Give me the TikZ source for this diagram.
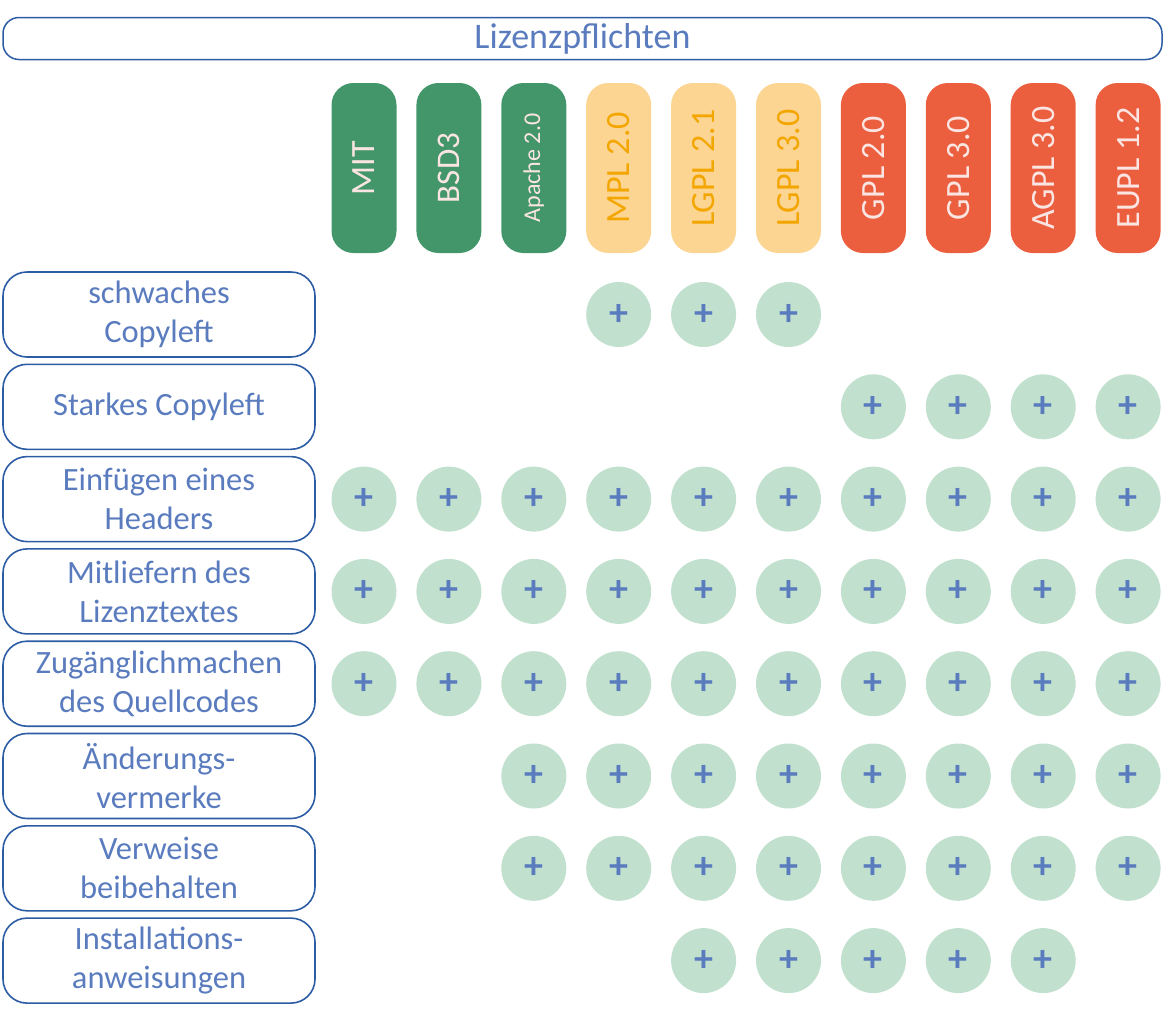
\documentclass[tikz,border=0pt]{standalone}
\usepackage{fontspec}
\setmainfont{Carlito}
\definecolor{boxblue}{RGB}{44,92,164}
\definecolor{txtblue}{RGB}{90,124,190}
\definecolor{hgreen}{RGB}{67,150,106}
\definecolor{hyellow}{RGB}{252,213,146}
\definecolor{tyellow}{RGB}{244,166,0}
\definecolor{hred}{RGB}{235,94,62}
\definecolor{tred}{RGB}{251,229,227}
\definecolor{dotgreen}{RGB}{193,225,206}

\begin{document}
\begin{tikzpicture}[x=1pt,y=-1pt,
    titlebox/.style={draw=boxblue, line width=1.5pt, rounded corners=16pt, minimum width=1159pt, minimum height=42pt, inner sep=0pt, text=txtblue, font=\fontsize{36}{40}\selectfont},
    hdr/.style={rotate=90, rounded corners=22pt, minimum width=170pt, minimum height=65pt, inner sep=0pt},
    rowbox/.style={draw=boxblue, line width=1.6pt, rounded corners=24pt, minimum width=312pt, minimum height=85pt, inner sep=0pt, align=center, text=txtblue, font=\fontsize{32.5}{39}\selectfont},
    yes/.style={circle, fill=dotgreen, minimum size=65pt, inner sep=0pt, text=txtblue, font=\fontsize{38}{38}\selectfont\bfseries}]
    \useasboundingbox (0,0) rectangle (1170,1020);
    \node[titlebox] (title) at (582.5,38.5) {Lizenzpflichten};
    % license columns
    \foreach \lic/\bg/\fg/\fs [count=\i] in {MIT/hgreen/tred/34, BSD3/hgreen/tred/33, Apache 2.0/hgreen/tred/24,
        MPL 2.0/hyellow/tyellow/34, LGPL 2.1/hyellow/tyellow/34, LGPL 3.0/hyellow/tyellow/34,
        GPL 2.0/hred/tred/34, GPL 3.0/hred/tred/34, AGPL 3.0/hred/tred/34, EUPL 1.2/hred/tred/34}
        \node[hdr, fill=\bg, text=\fg, font=\fontsize{\fs}{\fs}\selectfont] (h\i) at ({364+84.9*(\i-1)},168) {\lic};
    % obligations
    \foreach \txt/\cols [count=\r] in {{schwaches\\Copyleft}/{4,5,6}, {Starkes Copyleft}/{7,8,9,10},
        {Einfügen eines\\Headers}/{1,...,10}, {Mitliefern des\\Lizenztextes}/{1,...,10},
        {Zugänglichmachen\\des Quellcodes}/{1,...,10}, {Änderungs-\\vermerke}/{3,...,10},
        {Verweise\\beibehalten}/{3,...,10}, {Installations-\\anweisungen}/{5,...,9}}
    {
        \node[rowbox] (r\r) at (159,{314.5+92.3*(\r-1)}) {\txt};
        \foreach \c in \cols
            \node[yes] (c\r-\c) at (h\c.center |- r\r.center) {+};
    }
\end{tikzpicture}
\end{document}
